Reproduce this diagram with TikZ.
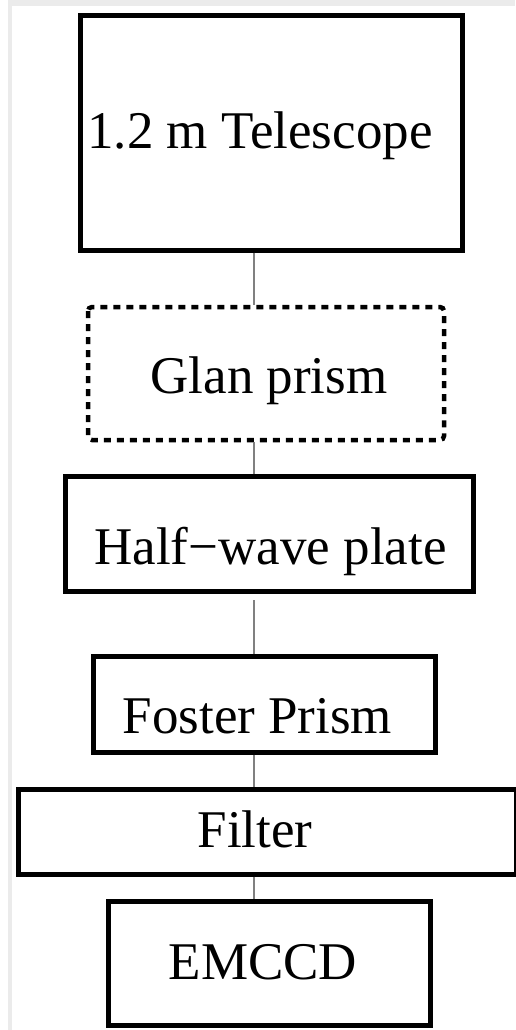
\documentclass[tikz,border=0pt]{standalone}
\usepackage{fontspec}
\setmainfont{Liberation Serif}
\begin{document}
\begin{tikzpicture}[x=1pt,y=-1pt,
  box/.style={draw=black,line width=5pt,fill=none},
  dbox/.style={draw=black,line width=4.5pt,dash pattern=on 7pt off 6pt,rounded corners=4pt},
  lbl/.style={anchor=base,inner sep=0pt,font=\fontsize{53}{60}\selectfont},
  conn/.style={draw=black!50,line width=1.2pt}]
\useasboundingbox (0,0) rectangle (515,1030);
\fill[white] (0,0) rectangle (515,1030);
\fill[black!8] (8,0) rectangle (515,6);
\fill[black!8] (8,0) rectangle (12,1030);
% boxes
\draw[box] (80,16) rectangle (462,250);
\coordinate (telB) at (254,252.5);
\draw[dbox] (88,307) rectangle (444,440);
\coordinate (glanT) at (254,305);
\coordinate (glanB) at (254,442);
\draw[box] (65,476) rectangle (473,591);
\coordinate (hwT) at (254,473.5);
\coordinate (hwB) at (254,600);
\draw[box] (93,656) rectangle (435,752);
\coordinate (fosT) at (254,653.5);
\coordinate (fosB) at (254,754.5);
\draw[box] (18,789) rectangle (516,874);
\coordinate (filT) at (254,786.5);
\coordinate (filB) at (254,876.5);
\draw[box] (108,901) rectangle (430,1025);
\coordinate (emT) at (254,898.5);
% labels
\node[lbl] (telL) at (260,149) {1.2 m Telescope};
\node[lbl] (glanL) at (269,393) {Glan prism};
\node[lbl] (hwL) at (270.5,564) {Half\char"2212 wave plate};
\node[lbl] (fosL) at (257.5,733) {Foster Prism};
\node[lbl] (filL) at (255,847) {Filter};
\node[lbl] (emL) at (263,979) {EMCCD};
% connectors
\draw[conn] (telB) -- (glanT);
\draw[conn] (glanB) -- (hwT);
\draw[conn] (hwB) -- (fosT);
\draw[conn] (fosB) -- (filT);
\draw[conn] (filB) -- (emT);
\end{tikzpicture}
\end{document}
